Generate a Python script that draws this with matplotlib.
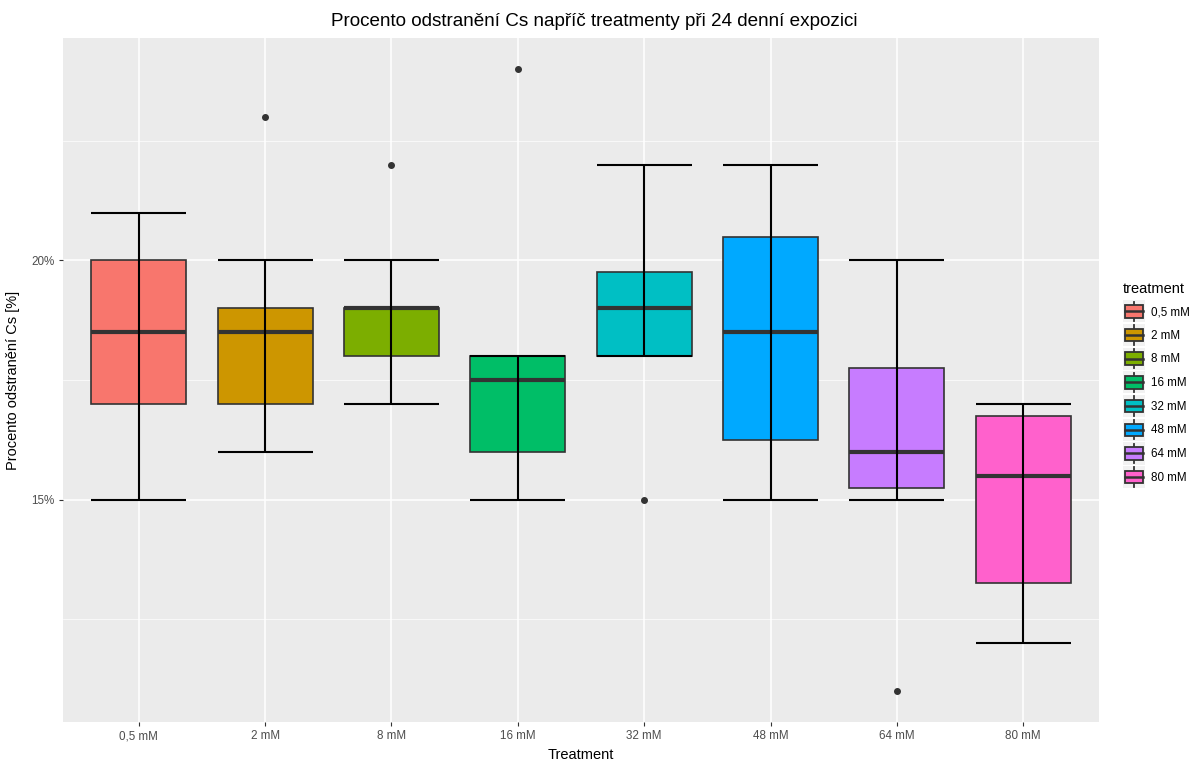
import matplotlib.pyplot as plt
from matplotlib.legend_handler import HandlerBase
from matplotlib.patches import Rectangle
from matplotlib.lines import Line2D
from matplotlib.ticker import FixedLocator, FuncFormatter

plt.rcParams['font.family'] = ['Liberation Sans', 'DejaVu Sans']

treatments = ['0,5 mM', '2 mM', '8 mM', '16 mM', '32 mM', '48 mM', '64 mM', '80 mM']
colors = ['#F8766D', '#CD9600', '#7CAE00', '#00BE67', '#00BFC4', '#00A9FF', '#C77CFF', '#FF61CC']

# five-number summaries per treatment (% Cs removed)
whisker_low = [15, 16, 17, 15, 18, 15, 15, 12]
q1 = [17, 17, 18, 16, 18, 16.25, 15.25, 13.25]
medians = [18.5, 18.5, 19, 17.5, 19, 18.5, 16, 15.5]
q3 = [20, 19, 19, 18, 19.75, 20.5, 17.75, 16.75]
whisker_high = [21, 20, 20, 18, 22, 22, 20, 17]
outliers = [[], [23], [22], [24], [15], [], [11], []]


class BoxKeyHandler(HandlerBase):
    def __init__(self, color):
        super().__init__()
        self.color = color

    def create_artists(self, legend, orig_handle, xdescent, ydescent, width, height, fontsize, trans):
        # square key centred on the label row
        x0 = -xdescent
        side = width
        yc = -ydescent + height / 2
        y0 = yc - side / 2
        bg = Rectangle((x0, y0), side, side, facecolor='#F2F2F2', edgecolor='none', transform=trans)
        vline = Line2D([x0 + side / 2] * 2, [y0 + 1, y0 + side - 1], color='#333333', lw=1.3, transform=trans)
        box = Rectangle((x0 + side * 0.1, y0 + side * 0.22), side * 0.8, side * 0.56,
                        facecolor=self.color, edgecolor='#333333', lw=1.3, transform=trans)
        med = Line2D([x0 + side * 0.1, x0 + side * 0.9], [yc] * 2,
                     color='#333333', lw=1.8, transform=trans)
        return [bg, vline, box, med]


fig = plt.figure(figsize=(11.89, 7.6), dpi=100)
ax = fig.add_axes([63 / 1189, 38 / 760, 1036 / 1189, 684 / 760])
ax.set_facecolor('#EBEBEB')

positions = list(range(1, len(treatments) + 1))
stats = []
for i in range(len(treatments)):
    stats.append({'med': medians[i], 'q1': q1[i], 'q3': q3[i],
                  'whislo': whisker_low[i], 'whishi': whisker_high[i],
                  'fliers': outliers[i], 'label': treatments[i]})

bp = ax.bxp(stats, positions=positions, widths=0.75, patch_artist=True, showcaps=False,
            boxprops={'edgecolor': '#333333', 'linewidth': 1.2},
            whiskerprops={'linestyle': 'none'},
            medianprops={'color': '#333333', 'linewidth': 3.0, 'solid_capstyle': 'butt'},
            flierprops={'marker': 'o', 'markersize': 4, 'markerfacecolor': '#333333',
                        'markeredgecolor': '#333333'},
            zorder=3)
for patch, c in zip(bp['boxes'], colors):
    patch.set_facecolor(c)

# error-bar style whiskers drawn over the boxes
half = 0.375
ax.vlines(positions, whisker_low, whisker_high, color='black', lw=1.5, zorder=4)
ax.hlines(whisker_low, [p - half for p in positions], [p + half for p in positions],
          color='black', lw=1.5, zorder=4)
ax.hlines(whisker_high, [p - half for p in positions], [p + half for p in positions],
          color='black', lw=1.5, zorder=4)

ax.set_xlim(0.4, len(treatments) + 0.6)
ax.set_ylim(10.35, 24.65)
ax.set_xticks(positions)
ax.set_xticklabels(treatments)
ax.yaxis.set_major_locator(FixedLocator([15, 20]))
ax.yaxis.set_minor_locator(FixedLocator([12.5, 17.5, 22.5]))
ax.yaxis.set_major_formatter(FuncFormatter(lambda v, p: f'{v:.0f}%'))

ax.grid(True, which='major', color='white', lw=1.1, zorder=0)
ax.grid(True, which='minor', axis='y', color='white', lw=0.5, zorder=0)
ax.set_axisbelow(True)
for s in ax.spines.values():
    s.set_visible(False)
ax.tick_params(which='major', length=3, width=0.8, color='#333333', labelcolor='#4D4D4D', labelsize=8.4, pad=3)
ax.tick_params(which='minor', length=0)

ax.set_xlabel('Treatment', fontsize=10.5, labelpad=4)
ax.set_ylabel('Procento odstranění Cs [%]', fontsize=10.5, labelpad=8)
fig.text(0.5, 1 - 21 / 760, 'Procento odstranění Cs napříč treatmenty při 24 denní expozici',
         fontsize=13.6, ha='center', va='center')

handles = [Rectangle((0, 0), 1, 1) for _ in treatments]
leg = fig.legend(handles, treatments, title='treatment', loc='center left',
                 bbox_to_anchor=(1115 / 1189, 1 - 384 / 760), frameon=False, fontsize=8.4,
                 title_fontsize=10.5, handlelength=1.9, handleheight=1.9,
                 handletextpad=0.45, labelspacing=0.55, borderpad=0.2,
                 handler_map={h: BoxKeyHandler(c) for h, c in zip(handles, colors)})
leg._legend_box.align = 'left'

fig.savefig('out.png', dpi=100)
